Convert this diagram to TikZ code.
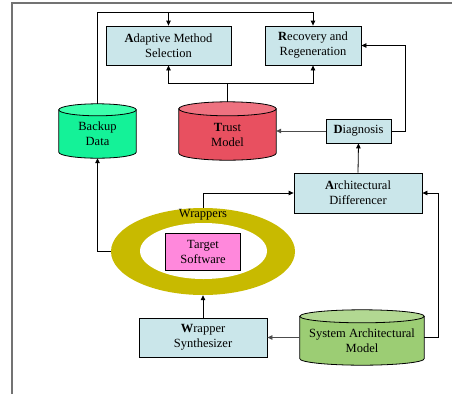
\documentclass[tikz,border=0pt]{standalone}
\usepackage{fontspec}
\setmainfont{Liberation Serif}
\usetikzlibrary{positioning, arrows.meta, shapes.geometric, calc}
\definecolor{boxblue}{RGB}{202,230,234}
\definecolor{backupbody}{RGB}{20,242,152}
\definecolor{backuptop}{RGB}{60,255,172}
\definecolor{trustbody}{RGB}{232,80,96}
\definecolor{trusttop}{RGB}{238,114,128}
\definecolor{sysbody}{RGB}{156,205,116}
\definecolor{systop}{RGB}{178,216,146}
\definecolor{wrapcolor}{RGB}{200,186,0}
\definecolor{targetpink}{RGB}{255,136,220}

% cylinder drawn on the frame of a named node: name, body, end, y radius
\newcommand{\storeshape}[4]{%
  \path let \p1=($(#1.east)-(#1.west)$) in
    [draw, line width=0.8pt, fill=#2] ([yshift=-#4]#1.north west) -- ([yshift=#4]#1.south west)
      arc[start angle=180, end angle=360, x radius=0.5*\x1, y radius=#4]
      -- ([yshift=-#4]#1.north east) -- cycle;
  \path let \p1=($(#1.east)-(#1.west)$) in
    [draw, line width=0.8pt, fill=#3] ([yshift=-#4]#1.north) ellipse [x radius=0.5*\x1, y radius=#4];
}

\begin{document}
\begin{tikzpicture}[x=1pt, y=-1pt,
    font=\fontsize{12.5}{15}\selectfont,
    box/.style={rectangle, draw, fill=boxblue, line width=0.8pt, align=center, inner sep=2pt},
    storebox/.style={rectangle, inner sep=0pt},
    storetext/.style={align=center, inner sep=1pt},
    arrow/.style={-{Triangle[length=5pt, width=4.5pt]}, line width=0.8pt},
    grayline/.style={draw=black!70}
]
    \useasboundingbox (0,0) rectangle (452,394);
    \draw[black!55, line width=1.3pt] (12,394) -- (12,3) -- (452,3);

    % === TOP ROW ===
    \node[box, minimum width=125pt, minimum height=39pt] (adaptive) at (168.5,45.5) {\textbf{A}daptive Method\\Selection};
    \node[box, minimum width=96pt, minimum height=39pt] (recovery) at (313,45.5) {\textbf{R}ecovery and\\Regeneration};

    % === DATA STORES ===
    \node[storebox, minimum width=77pt, minimum height=54pt] (backup) at (97.5,131) {};
    \storeshape{backup}{backupbody}{backuptop}{6pt}
    \node[storetext] (backuptext) at ([yshift=-3pt]backup.center) {Backup\\Data};

    \node[storebox, minimum width=97pt, minimum height=58pt] (trust) at (227.5,131) {};
    \storeshape{trust}{trustbody}{trusttop}{7pt}
    \node[storetext] (trusttext) at ([yshift=-4pt]trust.center) {\textbf{T}rust\\Model};

    \node[storebox, minimum width=124pt, minimum height=55pt] (sysmodel) at (362,337.5) {};
    \storeshape{sysmodel}{sysbody}{systop}{6.5pt}
    \node[storetext] (systext) at ([yshift=-3.5pt]sysmodel.center) {System Architectural\\Model};

    % === DIAGNOSIS / DIFFERENCER ===
    \node[box, minimum width=65pt, minimum height=24pt] (diag) at (358.5,131) {\textbf{D}iagnosis};
    \node[box, minimum width=128pt, minimum height=40pt] (arch) at (358,193) {\textbf{A}rchitectural\\Differencer};

    % === WRAPPERS ===
    \node[ellipse, fill=wrapcolor, minimum width=184pt, minimum height=87pt, inner sep=0pt] (wrap) at (203,251.5) {};
    \node[ellipse, fill=white, minimum width=127pt, minimum height=56pt, inner sep=0pt] (wrapin) at (203.5,251) {};
    \node (wraplabel) at (203,214.5) {Wrappers};
    \node[box, fill=targetpink, minimum width=75pt, minimum height=37pt] (target) at (203,251.5) {Target\\Software};
    \node[box, minimum width=128pt, minimum height=39pt] (synth) at (203,337.5) {\textbf{W}rapper\\Synthesizer};

    % === CONNECTORS ===
    \coordinate (topbus) at (97,12);
    \coordinate (trustbus) at (227.5,83);
    \draw[arrow] (backup.north) -- (backup.north |- topbus) -| (adaptive.north);
    \draw[arrow] (adaptive.north |- topbus) -| (recovery.north);
    \draw (trust.north) -- (trust.north |- trustbus);
    \draw[arrow] (trust.north |- trustbus) -| (adaptive.south);
    \draw[arrow] (trust.north |- trustbus) -| (recovery.south);
    \draw[arrow, grayline] (diag.west) -- (trust.east);
    \draw[arrow] (diag.east) -- ++(14,0) |- (recovery.east);
    \draw[arrow] (arch.north) -- (diag.south);
    \draw[arrow] (wrap.north) |- (arch.west);
    \draw[arrow] (wrap.west) -| (backup.south);
    \draw[arrow] (synth.north) -- (wrap.south);
    \draw[arrow, grayline] (sysmodel.west) -- (synth.east);
    \draw[arrow] (sysmodel.east) -- ++(14,0) |- (arch.east);
\end{tikzpicture}
\end{document}
